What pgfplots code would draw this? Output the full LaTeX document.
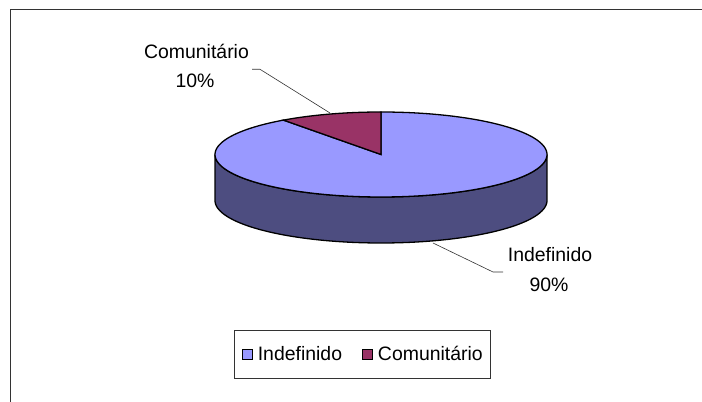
\documentclass[border=0pt]{standalone}
\usepackage{pgfplots}
\usepackage{pgfplotstable}
\pgfplotsset{compat=1.18}
\usepackage{fontspec}
\setmainfont{Liberation Sans}
\definecolor{cIndef}{HTML}{9999FF}
\definecolor{cIndefSide}{HTML}{4D4D80}
\definecolor{cComun}{HTML}{993366}
\pgfplotstableread{
label value
Indefinido 90
Comunitario 10
}\pietable
\newcommand\lblfont{\fontsize{19.5}{23}\selectfont}
\begin{document}
\begin{tikzpicture}
\useasboundingbox (0,0) rectangle (702bp,402bp);
\pgfplotstablegetelem{0}{value}\of\pietable \pgfmathsetmacro\vA{\pgfplotsretval}
\pgfplotstablegetelem{1}{value}\of\pietable \pgfmathsetmacro\vB{\pgfplotsretval}
\pgfmathsetmacro\tot{\vA+\vB}
\pgfmathsetmacro\aA{90-(\vA/\tot)*360}
\pgfmathsetmacro\aB{\aA-(\vB/\tot)*360}
\begin{axis}[
  at={(0,0)}, anchor=south west,
  scale only axis, width=702bp, height=402bp,
  xmin=0, xmax=702, ymin=0, ymax=402,
  hide axis, clip=false,
  legend columns=2,
  legend image code/.code={\draw[#1, draw=black, line width=0.9pt] (0bp,-5bp) rectangle (10bp,5bp);},
  legend style={at={(234/702,72/402)}, anchor=north west,
    draw=black!80, line width=0.9pt, inner xsep=7.5bp, inner ysep=16bp,
    font=\lblfont,
    nodes={inner sep=0pt},
    /tikz/every odd column/.append style={column sep=5bp},
    /tikz/every even column/.append style={column sep=20bp}},
]
% frame
\draw[line width=1pt, black!80] (axis cs:10,-20) -- (axis cs:10,392) -- (axis cs:720,392);
% side wall (front half)
\addplot[fill=cIndefSide, draw=black, line width=1.3pt, domain=180:540, samples=181, variable=\t, forget plot]
  ({381+166*cos(t)}, {247.5-42.5*abs(sin(t))-46*(t>360)}) -- cycle;
% top: Indefinido
\addplot[fill=cIndef, draw=black, line width=1.3pt, domain=\aA:90, samples=160, variable=\t, forget plot]
  ({381+166*cos(t)}, {247.5+42.5*sin(t)}) -- (axis cs:381,247.5) -- cycle;
% top: Comunitario
\addplot[fill=cComun, draw=black, line width=1.3pt, domain=\aB:\aA, samples=40, variable=\t, forget plot]
  ({381+166*cos(t)}, {247.5+42.5*sin(t)}) -- (axis cs:381,247.5) -- cycle;
\addlegendimage{fill=cIndef}
\addlegendentry{Indefinido}
\addlegendimage{fill=cComun}
\addlegendentry{Comunitário}
% data labels
\node[anchor=base, font=\lblfont] at (axis cs:196.5,343) {Comunitário};
\node[anchor=base, font=\lblfont] at (axis cs:195,314) {10\%};
\node[anchor=base, font=\lblfont] at (axis cs:550,140) {Indefinido};
\node[anchor=base, font=\lblfont] at (axis cs:549,110) {90\%};
% leader lines
\draw[line width=0.6pt, black!80] (axis cs:252,332.7) -- (axis cs:260,332.7) -- (axis cs:330,289);
\draw[line width=0.6pt, black!80] (axis cs:503,130) -- (axis cs:493,130) -- (axis cs:433,159);
\end{axis}
\end{tikzpicture}
\end{document}
